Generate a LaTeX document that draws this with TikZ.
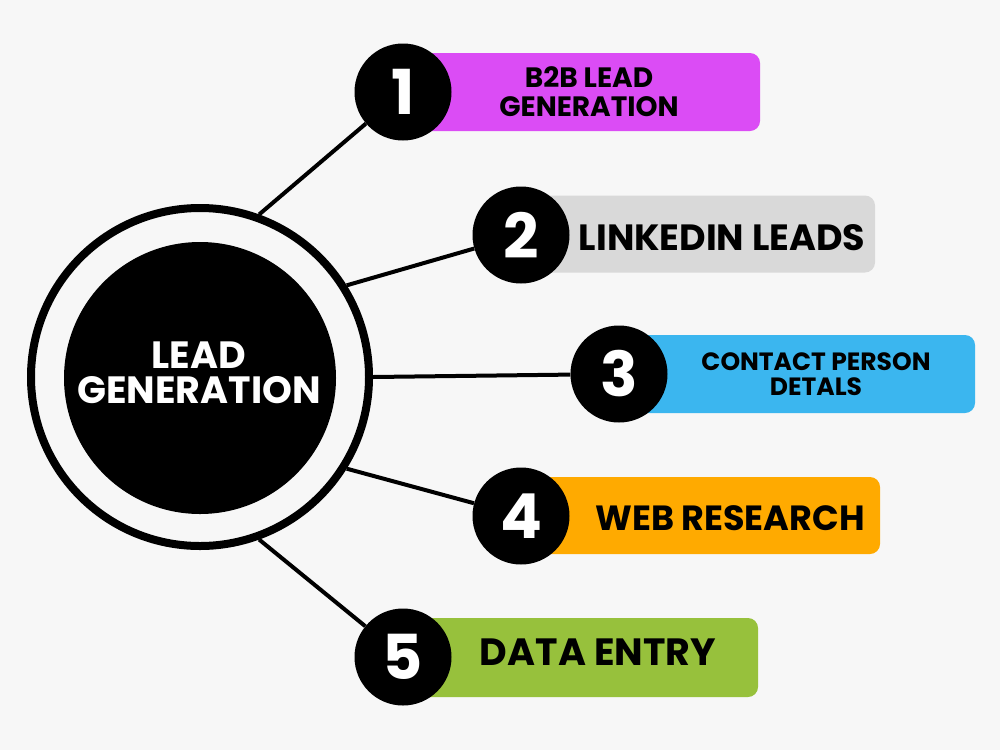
\documentclass[tikz,border=0pt]{standalone}
\usepackage{fontspec}
\setmainfont{Poppins}
\definecolor{bg}{HTML}{F7F7F7}
\definecolor{cmag}{HTML}{DB4CF5}
\definecolor{cgray}{HTML}{D9D9D9}
\definecolor{cblue}{HTML}{3BB6EF}
\definecolor{corange}{HTML}{FFAA00}
\definecolor{cgreen}{HTML}{97C13C}
\begin{document}
\begin{tikzpicture}[x=1pt,y=-1pt,
  numc/.style={circle, fill=black, minimum size=97pt, inner sep=0pt, text=white, font=\bfseries\fontsize{62}{62}\selectfont},
  bar/.style={rounded corners=10pt, inner sep=0pt},
  lbl/.style={align=center, text=black, font=\bfseries\fontsize{28}{29}\selectfont},
  conn/.style={line width=4pt}]
\useasboundingbox (0,0) rectangle (1000,750);
\fill[bg] (0,0) rectangle (1000,750);
% bars
\node[bar, fill=cmag, minimum width=350pt, minimum height=78pt] (b1) at (585,92) {};
\node[bar, fill=cgray, minimum width=355pt, minimum height=77pt] (b2) at (697.5,234) {};
\node[bar, fill=cblue, minimum width=355pt, minimum height=78pt] (b3) at (797.5,374) {};
\node[bar, fill=corange, minimum width=360pt, minimum height=77pt] (b4) at (700,515.5) {};
\node[bar, fill=cgreen, minimum width=348pt, minimum height=79pt] (b5) at (584,657.5) {};
% labels
\node[lbl] (t1) at (589,92) {B2B LEAD\\GENERATION};
\node[lbl, font=\bfseries\fontsize{36.5}{38}\selectfont] (t2) at (722,238) {LINKEDIN LEADS};
\node[lbl, font=\bfseries\fontsize{25}{25}\selectfont] (t3) at (816,374) {CONTACT PERSON\\DETALS};
\node[lbl, font=\bfseries\fontsize{35}{36}\selectfont] (t4) at (730,518) {WEB RESEARCH};
\node[lbl, font=\bfseries\fontsize{38}{38}\selectfont] (t5) at (598,652) {DATA ENTRY};
% hub
\node[circle, draw=black, line width=8pt, minimum size=338pt, inner sep=0pt] (ring) at (200,377) {};
\node[circle, fill=black, minimum size=272pt, inner sep=0pt] (core) at (200,378) {};
\node[align=center, text=white, font=\bfseries\fontsize{38}{35}\selectfont] (corelbl) at (199,373) {LEAD\\GENERATION};
% number circles
\node[numc] (n1) at (403,92) {1};
\node[numc] (n2) at (521,235) {2};
\node[numc] (n3) at (619,374) {3};
\node[numc] (n4) at (521,516) {4};
\node[numc] (n5) at (403,657) {5};
% connectors
\draw[conn] (ring.70.5) -- (n1);
\draw[conn] (ring.32) -- (n2);
\draw[conn] (ring.0) -- (n3);
\draw[conn] (ring.-32) -- (n4);
\draw[conn] (ring.-70.5) -- (n5);
\end{tikzpicture}
\end{document}
